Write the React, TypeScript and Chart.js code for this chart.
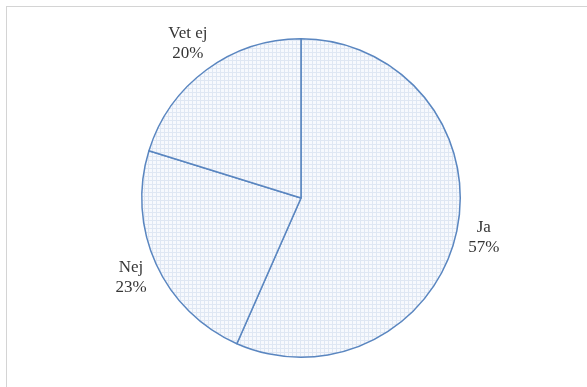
import React, { useEffect, useRef } from "react";
import { Chart, registerables } from "chart.js";

Chart.register(...registerables);

const categories = ["Ja", "Nej", "Vet ej"];
const values = [56.6, 23.2, 20.2];

function makePattern(): CanvasPattern | string {
  const c = document.createElement("canvas");
  c.width = 4;
  c.height = 4;
  const ctx = c.getContext("2d");
  if (!ctx) return "#f1f5fb";
  ctx.fillStyle = "#f7f9fd";
  ctx.fillRect(0, 0, 4, 4);
  ctx.fillStyle = "#dfe7f3";
  ctx.fillRect(0, 0, 4, 1);
  ctx.fillRect(0, 0, 1, 4);
  const p = ctx.createPattern(c, "repeat");
  return p || "#f1f5fb";
}

const framePlugin = {
  id: "frame",
  beforeDraw(chart: any) {
    const ctx = chart.ctx;
    ctx.save();
    ctx.strokeStyle = "#d4d4d4";
    ctx.lineWidth = 1;
    ctx.strokeRect(6.5, 6.5, chart.width + 20, chart.height + 20);
    ctx.restore();
  },
};

const outsideLabels = {
  id: "outsideLabels",
  afterDatasetsDraw(chart: any) {
    const ctx = chart.ctx;
    const meta = chart.getDatasetMeta(0);
    const total = values.reduce((a, b) => a + b, 0);
    ctx.save();
    ctx.font = '17px "Liberation Serif", "DejaVu Serif", serif';
    ctx.fillStyle = "#363636";
    ctx.textAlign = "center";
    ctx.textBaseline = "middle";
    const lineH = 20;
    meta.data.forEach((arc: any, i: number) => {
      const { x, y, startAngle, endAngle, outerRadius } = arc.getProps(
        ["x", "y", "startAngle", "endAngle", "outerRadius"],
        true
      );
      const mid = (startAngle + endAngle) / 2;
      const cos = Math.cos(mid);
      const sin = Math.sin(mid);
      const pct = Math.round((values[i] / total) * 100) + "%";
      const lines = [categories[i], pct];
      const w = Math.max(...lines.map((l) => ctx.measureText(l).width));
      const h = lineH * lines.length;
      const d = outerRadius + 12;
      const cx = x + d * cos + (w / 2) * cos;
      const cy = y + d * sin + (h / 2) * sin;
      lines.forEach((l, k) => {
        ctx.fillText(l, cx, cy - h / 2 + lineH / 2 + k * lineH);
      });
    });
    ctx.restore();
  },
};

export default function App() {
  const ref = useRef<HTMLCanvasElement>(null);
  useEffect(() => {
    if (!ref.current) return;
    const pattern = makePattern();
    const chart = new Chart(ref.current, {
      type: "pie",
      data: {
        labels: categories,
        datasets: [
          {
            data: values,
            backgroundColor: [pattern, pattern, pattern],
            borderColor: "#5a86c0",
            borderWidth: 1.5,
          },
        ],
      },
      options: {
        animation: false,
        responsive: false,
        layout: { padding: { left: 141, right: 126, top: 38, bottom: 29 } },
        plugins: {
          legend: { display: false },
          tooltip: { enabled: false },
        },
      },
      plugins: [framePlugin, outsideLabels],
    });
    return () => chart.destroy();
  }, []);
  return (
    <div style={{ position: "fixed", left: 0, top: 0, width: 587, height: 387, background: "#fff" }}>
      <canvas ref={ref} width={587} height={387} style={{ display: "block" }} />
    </div>
  );
}
